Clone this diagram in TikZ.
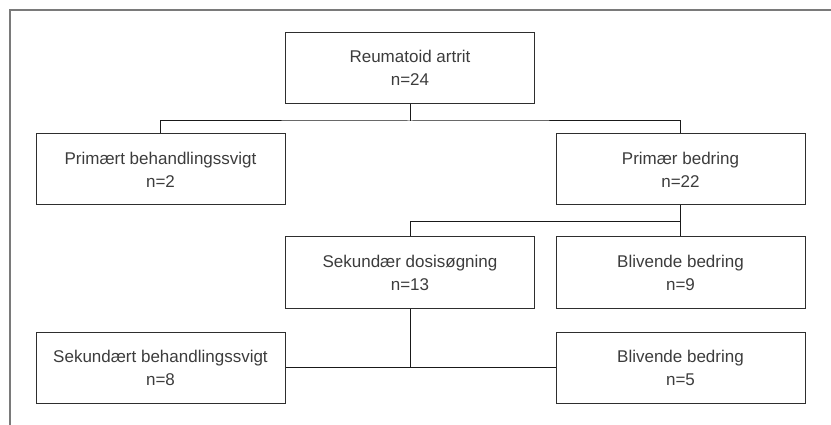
\documentclass[tikz,border=0pt]{standalone}
\usepackage{fontspec}
\setmainfont{Liberation Sans}
\usepackage{xcolor}
\definecolor{tekst}{HTML}{3C3C3C}
\definecolor{ramme}{HTML}{7A7A7A}
\definecolor{kant}{HTML}{2E2E2E}
\tikzset{boks/.style={draw=kant,line width=1pt,rectangle,minimum width=249pt,
		minimum height=71pt,align=center,text=tekst,
		font=\fontsize{17}{23}\selectfont},
	forb/.style={draw=black!90,line width=1pt},
	x=1pt,y=-1pt}

\begin{document}
\begin{tikzpicture}
\useasboundingbox (0,0) rectangle (831,425);
\draw[ramme,line width=1.2pt] (10,425) -- (10,10) -- (831,10);
\node [boks] (ra) at (410,68) {Reumatoid artrit\\n=24};
\node [boks] (pbs) at (160.5,169.5) {Primært behandlingssvigt\\n=2};
\node [boks] (pb) at (680.5,169.5) {Primær bedring\\n=22};
\node [boks] (sdo) at (410,272.5) {Sekundær dosisøgning\\n=13};
\node [boks] (bb1) at (680.5,272.5) {Blivende bedring\\n=9};
\node [boks] (sbs) at (160.5,367.5) {Sekundært behandlingssvigt\\n=8};
\node [boks] (bb2) at (680.5,367.5) {Blivende bedring\\n=5};
\coordinate (j1) at (410,121);
\coordinate (j2) at (680.5,222);
\coordinate (j3) at (sdo.south |- sbs.east);
% forbindelser
\draw[forb] (ra.south) -- (j1);
\draw[forb] (pbs.north) |- (j1) -| (pb.north);
\draw[forb] (pb.south) -- (bb1.north);
\draw[forb] (sdo.north) |- (j2);
\draw[forb] (sdo.south) -- (j3);
\draw[forb] (sbs.east) -- (bb2.west);
\end{tikzpicture}
\end{document}
